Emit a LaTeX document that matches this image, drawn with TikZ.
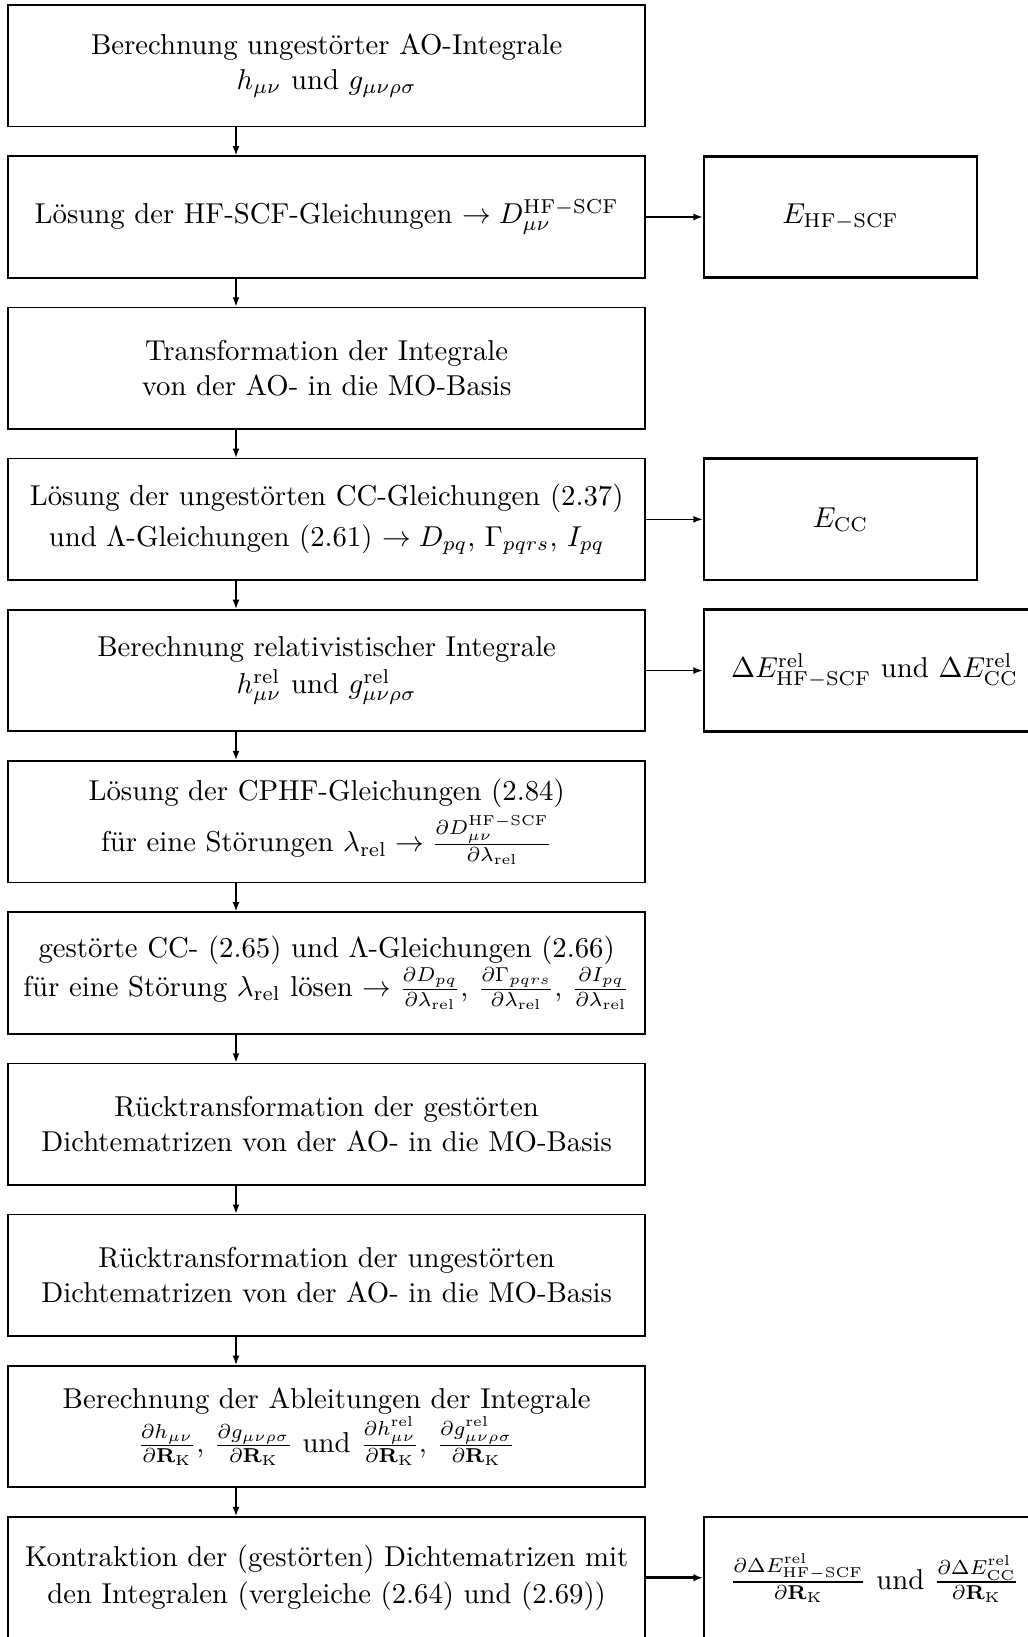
\documentclass[tikz,border=0pt]{standalone}
\usetikzlibrary{arrows.meta}
\begin{document}
\begin{tikzpicture}[x=0.3478pt,y=-0.3478pt,
  mainbox/.style={draw,line width=0.6pt,minimum width=221.4pt,minimum height=42.26pt,inner sep=0pt,align=center},
  sidebox/.style={draw,line width=0.95pt,minimum height=42.26pt,inner sep=0pt,align=center},
  arr/.style={line width=0.5pt,-{Latex[length=3.2pt,width=2.4pt]}},
  arrthick/.style={line width=0.95pt,-{Latex[length=3.2pt,width=2.6pt]}}]
\useasboundingbox (0,0) rectangle (1027,1637);
\coordinate (ax) at (236,0);
\node[mainbox] (b0) at (326.65,65.75) {Berechnung ungestörter AO-Integrale\\ $h_{\mu\nu}$ und $g_{\mu\nu\rho\sigma}$};
\node[mainbox] (b1) at (326.65,216.95) {Lösung der HF-SCF-Gleichungen $\rightarrow D^{\mathrm{HF-SCF}}_{\mu\nu}$};
\node[mainbox] (b2) at (326.65,368.15) {Transformation der Integrale\\ von der AO- in die MO-Basis};
\node[mainbox] (b3) at (326.65,519.35) {Lösung der ungestörten CC-Gleichungen (2.37)\\[2pt] und $\Lambda$-Gleichungen (2.61) $\rightarrow D_{pq}$, $\Gamma_{pqrs}$, $I_{pq}$};
\node[mainbox] (b4) at (326.65,670.55) {Berechnung relativistischer Integrale\\[1pt] $h^{\mathrm{rel}}_{\mu\nu}$ und $g^{\mathrm{rel}}_{\mu\nu\rho\sigma}$};
\node[mainbox] (b5) at (326.65,821.75) {Lösung der CPHF-Gleichungen (2.84)\\[2pt] für eine Störungen $\lambda_{\mathrm{rel}} \rightarrow \frac{\partial D^{\mathrm{HF-SCF}}_{\mu\nu}}{\partial\lambda_{\mathrm{rel}}}$};
\node[mainbox] (b6) at (326.65,972.95) {gestörte CC- (2.65) und $\Lambda$-Gleichungen (2.66)\\ für eine Störung $\lambda_{\mathrm{rel}}$ lösen $\rightarrow \frac{\partial D_{pq}}{\partial\lambda_{\mathrm{rel}}}$, $\frac{\partial\Gamma_{pqrs}}{\partial\lambda_{\mathrm{rel}}}$, $\frac{\partial I_{pq}}{\partial\lambda_{\mathrm{rel}}}$};
\node[mainbox] (b7) at (326.65,1124.15) {Rücktransformation der gestörten\\ Dichtematrizen von der AO- in die MO-Basis};
\node[mainbox] (b8) at (326.65,1275.35) {Rücktransformation der ungestörten\\ Dichtematrizen von der AO- in die MO-Basis};
\node[mainbox] (b9) at (326.65,1426.55) {Berechnung der Ableitungen der Integrale\\ $\frac{\partial h_{\mu\nu}}{\partial\mathbf{R}_{\mathrm{K}}}$, $\frac{\partial g_{\mu\nu\rho\sigma}}{\partial\mathbf{R}_{\mathrm{K}}}$ und $\frac{\partial h^{\mathrm{rel}}_{\mu\nu}}{\partial\mathbf{R}_{\mathrm{K}}}$, $\frac{\partial g^{\mathrm{rel}}_{\mu\nu\rho\sigma}}{\partial\mathbf{R}_{\mathrm{K}}}$};
\node[mainbox] (b10) at (326.65,1577.75) {Kontraktion der (gestörten) Dichtematrizen mit\\[1pt] den Integralen (vergleiche (2.64) und (2.69))};
\node[sidebox,minimum width=94.95pt] (r1) at (840.5,216.95) {$E_{\mathrm{HF-SCF}}$};
\node[sidebox,minimum width=94.95pt] (r3) at (840.5,519.35) {$E_{\mathrm{CC}}$};
\node[sidebox,minimum width=118.6pt] (r4) at (874.5,670.55) {$\Delta E^{\mathrm{rel}}_{\mathrm{HF-SCF}}$ und $\Delta E^{\mathrm{rel}}_{\mathrm{CC}}$};
\node[sidebox,minimum width=118.6pt] (r10) at (874.5,1577.75) {$\frac{\partial\Delta E^{\mathrm{rel}}_{\mathrm{HF-SCF}}}{\partial\mathbf{R}_{\mathrm{K}}}$ und $\frac{\partial\Delta E^{\mathrm{rel}}_{\mathrm{CC}}}{\partial\mathbf{R}_{\mathrm{K}}}$};
\foreach \a/\b in {b0/b1,b1/b2,b2/b3,b3/b4,b4/b5,b5/b6,b6/b7,b7/b8,b8/b9,b9/b10}
  \draw[arr] (\a.south -| ax) -- (\b.north -| ax);
\draw[arr] (b1.east) -- (r1.west);
\draw[arr] (b3.east) -- (r3.west);
\draw[arr] (b4.east) -- (r4.west);
\draw[arrthick] (b10.east) -- (r10.west);
\end{tikzpicture}
\end{document}
